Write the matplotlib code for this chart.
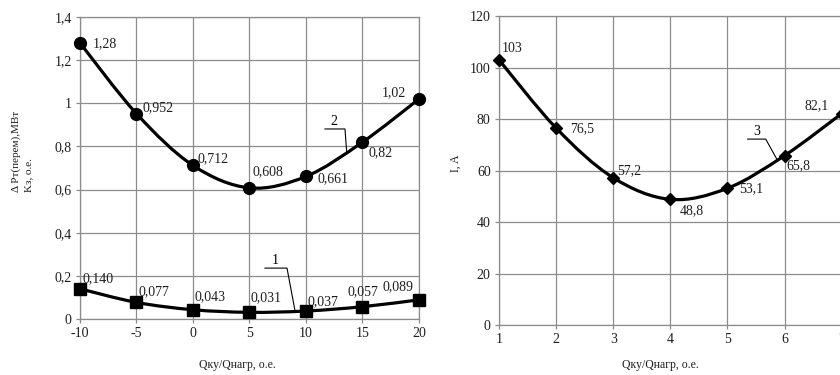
import numpy as np
import matplotlib
matplotlib.use("Agg")
import matplotlib.pyplot as plt
from matplotlib.path import Path
from matplotlib.patches import PathPatch
from matplotlib.ticker import FuncFormatter

plt.rcParams['font.family'] = ['Liberation Serif', 'DejaVu Serif']
plt.rcParams['font.size'] = 10

# Left panel: losses and load factor vs compensation ratio
ratio_left = [-10, -5, 0, 5, 10, 15, 20]
loss_var = [1.28, 0.952, 0.712, 0.608, 0.661, 0.82, 1.02]      # curve 2
load_k = [0.140, 0.077, 0.043, 0.031, 0.037, 0.057, 0.089]       # curve 1
loss_var_txt = ['1,28', '0,952', '0,712', '0,608', '0,661', '0,82', '1,02']
load_k_txt = ['0,140', '0,077', '0,043', '0,031', '0,037', '0,057', '0,089']

# Right panel: current vs compensation ratio
ratio_right = [1, 2, 3, 4, 5, 6, 7]
current = [103, 76.5, 57.2, 48.8, 53.1, 65.8, 82.1]               # curve 3
current_txt = ['103', '76,5', '57,2', '48,8', '53,1', '65,8', '82,1']

# label offsets in pixels (dx, dy)
off_loss = [(13, -1), (6, 6), (5, 7), (3, 16), (12, -2), (6, -11), (-37, 6)]
off_k = [(3, 10), (2, 11), (2, 13), (1, 15), (2, 9), (-15, 15), (-36, 13)]
off_cur = [(3, 11), (14, -1), (4, 7), (9, -11), (12, 0), (2, -10), (-37, 8)]

GRID = '#8c8c8c'
TXT = '#1e1e1e'
FS = 10


def smooth_path(x, y):
    """Catmull-Rom style cubic Bezier through the points."""
    x = np.asarray(x, float)
    y = np.asarray(y, float)
    pts = np.column_stack([x, y])
    n = len(pts)
    verts = [pts[0]]
    codes = [Path.MOVETO]
    for i in range(n - 1):
        p0 = pts[i - 1] if i > 0 else pts[i]
        p1 = pts[i]
        p2 = pts[i + 1]
        p3 = pts[i + 2] if i + 2 < n else pts[i + 1]
        c1 = p1 + (p2 - p0) / 6.0
        c2 = p2 - (p3 - p1) / 6.0
        verts += [c1, c2, p2]
        codes += [Path.CURVE4] * 3
    return Path(verts, codes)


def comma(v, _):
    return ('%g' % round(v, 6)).replace('.', ',')


def style_axes(ax):
    ax.grid(True, color=GRID, linewidth=0.9)
    ax.set_axisbelow(True)
    for s in ax.spines.values():
        s.set_color(GRID)
        s.set_linewidth(0.9)
    ax.tick_params(labelcolor=TXT, length=3, width=0.9, color=GRID, pad=3,
                   labelsize=FS)
    ax.xaxis.set_major_formatter(FuncFormatter(comma))
    ax.yaxis.set_major_formatter(FuncFormatter(comma))


fig = plt.figure(figsize=(8.4, 3.75), dpi=100)
fig.patch.set_facecolor('white')

# ---- left panel ----
ax1 = fig.add_axes([0.0952, 0.1493, 0.4036, 0.8053])
ax1.set_xlim(-10, 20)
ax1.set_ylim(0, 1.4)
ax1.set_xticks(ratio_left)
ax1.set_yticks(np.arange(0, 1.41, 0.2))
style_axes(ax1)

for yv, mk, ms in ((loss_var, 'o', 8.5), (load_k, 's', 8.5)):
    ax1.add_patch(PathPatch(smooth_path(ratio_left, yv), fill=False,
                            lw=2.3, edgecolor='black', zorder=3,
                            clip_on=False))
    ax1.plot(ratio_left, yv, linestyle='none', marker=mk, ms=ms,
             color='black', zorder=4, clip_on=False)

for x, y, t, (dx, dy) in zip(ratio_left, loss_var, loss_var_txt, off_loss):
    ax1.annotate(t, (x, y), xytext=(dx, dy), textcoords='offset pixels',
                 ha='left', va='center', fontsize=FS, color=TXT)
for x, y, t, (dx, dy) in zip(ratio_left, load_k, load_k_txt, off_k):
    ax1.annotate(t, (x, y), xytext=(dx, dy), textcoords='offset pixels',
                 ha='left', va='center', fontsize=FS, color=TXT)

# callouts 1 and 2
ax1.plot([6.37, 8.32, 9.03], [0.236, 0.236, 0.038], color='black', lw=0.8, zorder=5)
ax1.text(7.3, 0.24, '1', ha='center', va='bottom', fontsize=FS)
ax1.plot([11.68, 13.45, 13.6], [0.881, 0.881, 0.775], color='black', lw=0.8, zorder=5)
ax1.text(12.5, 0.885, '2', ha='center', va='bottom', fontsize=FS)

fig.text(0.027, 0.597, 'Δ Pт(перем),МВт\nKз, о.е.', rotation=90,
         ha='center', va='center', multialignment='left', fontsize=8,
         color=TXT, linespacing=1.5)
fig.text(0.283, 0.027, 'Qку/Qнагр, о.е.', ha='center', va='center',
         fontsize=8.5, color=TXT)

# ---- right panel ----
ax2 = fig.add_axes([0.594, 0.1333, 0.408, 0.824])
ax2.set_xlim(1, 7)
ax2.set_ylim(0, 120)
ax2.set_xticks(ratio_right)
ax2.set_yticks(np.arange(0, 121, 20))
style_axes(ax2)

ax2.add_patch(PathPatch(smooth_path(ratio_right, current), fill=False,
                        lw=2.3, edgecolor='black', zorder=3, clip_on=False))
ax2.plot(ratio_right, current, linestyle='none', marker='D', ms=6,
         color='black', zorder=4, clip_on=False)
for x, y, t, (dx, dy) in zip(ratio_right, current, current_txt, off_cur):
    ax2.annotate(t, (x, y), xytext=(dx, dy), textcoords='offset pixels',
                 ha='left', va='center', fontsize=FS, color=TXT)

ax2.plot([5.355, 5.67, 5.87], [72.2, 72.2, 64.2], color='black', lw=0.8, zorder=5)
ax2.text(5.51, 72.8, '3', ha='center', va='bottom', fontsize=FS)

fig.text(0.543, 0.565, 'I, A', rotation=90, ha='center', va='center',
         fontsize=8.5, color=TXT)
fig.text(0.786, 0.027, 'Qку/Qнагр, о.е.', ha='center', va='center',
         fontsize=8.5, color=TXT)

fig.savefig('out.png', dpi=100, facecolor='white')
